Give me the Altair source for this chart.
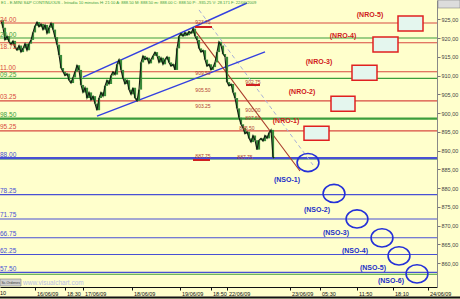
import altair as alt
import pandas as pd

# ---------------- data ----------------
bar_index = [1, 3, 5, 7, 9, 11, 13, 15, 17, 19, 21, 23, 25, 27, 29, 31, 33, 35, 37, 39,
             41, 43, 45, 47, 49, 51, 53, 55, 57, 59, 61, 63, 65, 67, 69, 71, 73, 75, 77, 79,
             81, 83, 85, 87, 89, 91, 93, 95, 97, 99, 101, 103, 105, 107, 109, 111, 113, 115,
             117, 119, 121, 123, 125, 127, 129, 131, 133, 135, 137, 139, 141, 143, 145, 147,
             149, 151, 153, 155, 157, 159, 161, 163, 165, 167, 169, 171, 173, 175, 177, 179,
             181, 183, 185, 187, 189, 191, 193, 195, 197, 199, 201, 203, 205, 207, 209, 211,
             213, 215, 217, 219, 221, 223, 225, 227, 229, 231, 233, 235, 237, 239, 241, 243,
             245, 247, 249, 251, 253, 255, 257, 259, 261, 263, 265, 267, 269, 271, 273, 274]
close = [924.75, 922.75, 919.5, 920.5, 919.0, 918.25, 919.25, 917.5, 916.75, 918.0,
         916.25, 917.25, 918.5, 916.75, 918.5, 919.5, 921.5, 923.25, 924.25, 923.0,
         923.75, 922.25, 923.5, 921.25, 922.75, 924.0, 922.25, 920.25, 918.25, 915.5,
         912.0, 911.0, 910.0, 910.5, 908.75, 908.0, 909.5, 911.0, 912.75, 911.5,
         907.5, 905.5, 906.75, 904.0, 905.5, 903.5, 904.5, 902.5, 900.75, 904.0,
         905.5, 904.5, 907.25, 908.75, 907.75, 910.0, 911.0, 910.25, 913.0, 914.25,
         911.5, 909.25, 907.75, 908.75, 906.25, 905.0, 906.75, 904.0, 903.25, 906.25,
         913.5, 915.25, 914.25, 914.75, 913.25, 914.25, 915.25, 916.25, 915.25, 913.5,
         914.75, 913.0, 914.25, 915.0, 913.5, 912.5, 913.0, 911.5, 917.25, 920.5,
         921.25, 920.5, 921.5, 920.75, 921.75, 921.25, 922.5, 920.5, 919.5, 917.25,
         916.25, 916.75, 914.25, 912.5, 913.0, 911.5, 912.25, 913.5, 916.25, 919.0,
         918.0, 915.75, 915.0, 908.25, 907.25, 907.75, 905.5, 904.0, 901.25, 898.75,
         897.0, 896.0, 894.5, 895.0, 893.25, 892.25, 894.0, 892.75, 890.25, 892.75,
         893.25, 892.5, 894.0, 893.25, 894.75, 895.5, 888.25, 888.0]

level_price = [924.00, 918.75, 911.00, 903.25, 895.25,
               920.00, 909.25, 898.50, 887.75, 857.00,
               888.00, 878.25, 871.75, 866.75, 862.25, 857.50]
level_kind = ["red"] * 5 + ["green"] * 5 + ["blue"] * 6
level_label = ["24.00", "18.75", "11.00", "03.25", "95.25",
               "20.00", "09.25", "98.50", "", "",
               "88.00", "78.25", "71.75", "66.75", "62.25", "57.50"]
strong_levels = [898.50, 888.00]
below_label_levels = [918.75]

nro_name = ["(NRO-1)", "(NRO-2)", "(NRO-3)", "(NRO-4)", "(NRO-5)"]
nro_x1 = [304, 331, 352, 373, 398]
nro_x2 = [329, 355, 377, 398, 423]
nro_top = [896.5, 904.5, 912.75, 920.25, 925.9]
nro_bottom = [892.75, 900.5, 908.75, 916.25, 921.9]
nro_label_x = [286, 302, 319, 343, 370]
nro_label_price = [897.9, 905.6, 913.6, 920.55, 926.15]

nso_name = ["(NSO-1)", "(NSO-2)", "(NSO-3)", "(NSO-4)", "(NSO-5)", "(NSO-6)"]
nso_x = [308, 334, 357, 382, 399, 417]
nso_price = [886.8, 878.55, 871.75, 866.7, 861.9, 857.1]
nso_label_x = [287, 317, 336, 355, 373, 391]
nso_label_price = [882.15, 874.15, 868.0, 863.2, 858.7, 855.2]

channel_x = [83, 247, 97, 265]
channel_price = [909.6, 929.35, 899.2, 916.3]
channel_id = ["upper", "upper", "lower", "lower"]
fall_x = [193, 300]
fall_price = [922.7, 884.55]
dash_x = [199, 313]
dash_price = [927.5, 886.15]

mark_text = ["923.75", "909.50", "905.50", "903.25", "887.75",
             "902.75", "900.00", "897.50", "895.50", "887.75"]
mark_x = [203, 203, 203, 203, 203, 253, 253, 253, 247, 245]
mark_price = [924.28, 910.68, 906.15, 901.88, 888.55,
              908.28, 900.81, 898.68, 896.0, 888.28]
underline_x1 = [195, 193, 246]
underline_x2 = [212, 210, 260]
underline_price = [922.95, 887.48, 907.48]

tick_x = [35, 65, 83, 132, 180, 211, 227, 290, 320, 357, 393, 428]
tick_label = ["16/06/09", "18:30", "17/06/09", "18/06/09", "19/06/09", "18:50",
              "22/06/09", "23/06/09", "05:30", "11:50", "18:10", "24/06/09"]
y_ticks = list(range(860, 930, 5))

header = ("E1 - E-MINI S&P CONTINUOUS - Intradia 10 minutos H: 21:10 A: 888.50 "
          "M: 888.50 m: 888.00 C: 888.50 P: -935.25 V: 28.171 F: 22/06/2009")

# ---------------- tables ----------------
W, H = 437, 287
xs = alt.Scale(domain=[0, 437], nice=False, zero=False)
ys = alt.Scale(domain=[853.6, 930.15], nice=False, zero=False)
FONT = "Liberation Sans"

candles = pd.DataFrame({"t": bar_index, "close": close})
candles["open"] = candles["close"].shift(1).fillna(candles["close"])

levels = pd.DataFrame({"price": level_price, "kind": level_kind, "label": level_label})
levels["strong"] = levels["price"].isin(strong_levels)
levels["below"] = levels["price"].isin(below_label_levels)
color_scale = alt.Scale(domain=["red", "green", "blue"], range=["#d84a40", "#3c9e3c", "#4850d4"])

nro = pd.DataFrame({"name": nro_name, "x1": nro_x1, "x2": nro_x2, "top": nro_top,
                    "bottom": nro_bottom, "lx": nro_label_x, "lp": nro_label_price})
nso = pd.DataFrame({"name": nso_name, "x": nso_x, "p": nso_price,
                    "lx": nso_label_x, "lp": nso_label_price})
channel = pd.DataFrame({"x": channel_x, "p": channel_price, "id": channel_id})
fall = pd.DataFrame({"x": fall_x, "p": fall_price})
dash = pd.DataFrame({"x": dash_x, "p": dash_price})
marks = pd.DataFrame({"text": mark_text, "x": mark_x, "p": mark_price})
under = pd.DataFrame({"x1": underline_x1, "x2": underline_x2, "p": underline_price})

label_expr = "".join(f"datum.value == {v} ? '{l}' : " for v, l in zip(tick_x, tick_label)) + "''"

x_axis = alt.Axis(
    values=tick_x, labelExpr=label_expr, title=None, grid=False, labelAlign="left",
    labelOffset=1.5, labelFontSize=5.5, labelFont=FONT, labelColor="#111",
    tickSize=3, tickColor="#111", labelPadding=1, domainColor="#111", labelFlush=False,
    labelOverlap=False)
y_axis = alt.Axis(
    orient="right", values=y_ticks, title=None, grid=False,
    labelExpr="replace(format(datum.value, '.2f'), '.', ',')",
    labelFontSize=5.5, labelFont=FONT, labelColor="#444", tickSize=3,
    tickColor="#777", domainColor="#888", labelPadding=1)

X = lambda f: alt.X(f, type="quantitative", scale=xs, axis=x_axis)
Y = lambda f: alt.Y(f, type="quantitative", scale=ys, axis=y_axis)

# ---------------- layers ----------------
level_lines = alt.Chart(levels).mark_rule().encode(
    y=Y("price"),
    color=alt.Color("kind:N", scale=color_scale, legend=None),
    strokeWidth=alt.condition("datum.strong", alt.value(2.2), alt.value(1.1)),
)
level_text = alt.Chart(levels).transform_filter("!datum.below").mark_text(
    align="left", baseline="bottom", dy=-0.5, fontSize=6.5, font=FONT).encode(
    x=alt.value(0), y=Y("price"), text="label:N",
    color=alt.Color("kind:N", scale=color_scale, legend=None),
)
level_text_below = alt.Chart(levels).transform_filter("datum.below").mark_text(
    align="left", baseline="top", dy=1, fontSize=6.5, font=FONT).encode(
    x=alt.value(0), y=Y("price"), text="label:N",
    color=alt.Color("kind:N", scale=color_scale, legend=None),
)

channel_lines = alt.Chart(channel).mark_line(color="#3440e0", strokeWidth=1.4).encode(
    x=X("x"), y=Y("p"), detail="id:N")
fall_line = alt.Chart(fall).mark_line(color="#a83a2a", strokeWidth=1.1).encode(x=X("x"), y=Y("p"))
dash_line = alt.Chart(dash).mark_line(color="#a8b0d8", strokeWidth=1, strokeDash=[4, 3]).encode(
    x=X("x"), y=Y("p"))

bodies = alt.Chart(candles).mark_rule(color="#3a8a3a", strokeWidth=2.2).encode(
    x=X("t"), y=Y("open"), y2="close")
price_line = alt.Chart(candles).mark_line(color="#141c14", strokeWidth=1.1).encode(
    x=X("t"), y=Y("close"))

boxes = alt.Chart(nro).mark_rect(fill="#e4f6ee", stroke="#e02020", strokeWidth=1.5).encode(
    x=X("x1"), x2="x2", y=Y("top"), y2="bottom")
nro_text = alt.Chart(nro).mark_text(color="#d02020", fontSize=7, fontWeight="bold", font=FONT).encode(
    x=X("lx"), y=Y("lp"), text="name:N")

ellipse = "M-1.2,0A1.2,1 0 1,1 1.2,0A1.2,1 0 1,1 -1.2,0Z"
circles = alt.Chart(nso).mark_point(shape=ellipse, size=330, filled=False, color="#2430d8",
                                    strokeWidth=1.6, opacity=1).encode(x=X("x"), y=Y("p"))
nso_text = alt.Chart(nso).mark_text(color="#2430c8", fontSize=7, fontWeight="bold", font=FONT).encode(
    x=X("lx"), y=Y("lp"), text="name:N")

mark_labels = alt.Chart(marks).mark_text(color="#b04030", fontSize=5, font=FONT).encode(
    x=X("x"), y=Y("p"), text="text:N")
underlines = alt.Chart(under).mark_rule(color="#d02020", strokeWidth=2).encode(
    x=X("x1"), x2="x2", y=Y("p"))

one = pd.DataFrame({"a": [0]})
header_text = alt.Chart(one).mark_text(align="left", baseline="top", fontSize=4.1, font=FONT,
                                       color="#3c9e3c", text=header).encode(
    x=alt.value(1), y=alt.value(1))
watermark = alt.Chart(one).mark_text(align="left", baseline="middle", fontSize=6.5, font=FONT,
                                     color="#b8c0e4", text="www.visualchart.com").encode(
    x=alt.value(23), y=alt.value(282.5))
sc_box = alt.Chart(one).mark_rect(fill="#cfcfcf", stroke="#808080", strokeWidth=0.6).encode(
    x=alt.value(0), x2=alt.value(21), y=alt.value(279), y2=alt.value(286))
sc_text = alt.Chart(one).mark_text(align="left", baseline="middle", fontSize=3.5, font=FONT,
                                   color="#333", text="Sc.Ordenes").encode(
    x=alt.value(1.5), y=alt.value(282.5))
ten_text = alt.Chart(one).mark_text(align="left", baseline="top", fontSize=5.5, font=FONT,
                                    color="#111", text="10").encode(
    x=alt.value(0), y=alt.value(291))
bottom_edge = alt.Chart(one).mark_rule(color="#111", strokeWidth=2).encode(
    x=alt.value(0), x2=alt.value(460), y=alt.value(297.5))
ctrl_box = alt.Chart(one).mark_rect(fill="#dcdcdc", stroke="#888", strokeWidth=0.6).encode(
    x=alt.value(438), x2=alt.value(460), y=alt.value(0), y2=alt.value(8))

chart = alt.layer(
    level_lines, dash_line, channel_lines, fall_line, bodies, price_line,
    underlines, mark_labels, level_text, level_text_below, boxes, nro_text, circles, nso_text,
    header_text, sc_box, sc_text, watermark, ten_text, bottom_edge, ctrl_box,
).properties(
    width=W, height=H,
    autosize=alt.AutoSizeParams(type="none"),
    padding={"left": 0, "top": 0, "right": 23, "bottom": 12},
    background="#FFFFCC",
).configure_view(stroke=None)

chart.save("out.html", embed_options={"renderer": "svg", "actions": False})
